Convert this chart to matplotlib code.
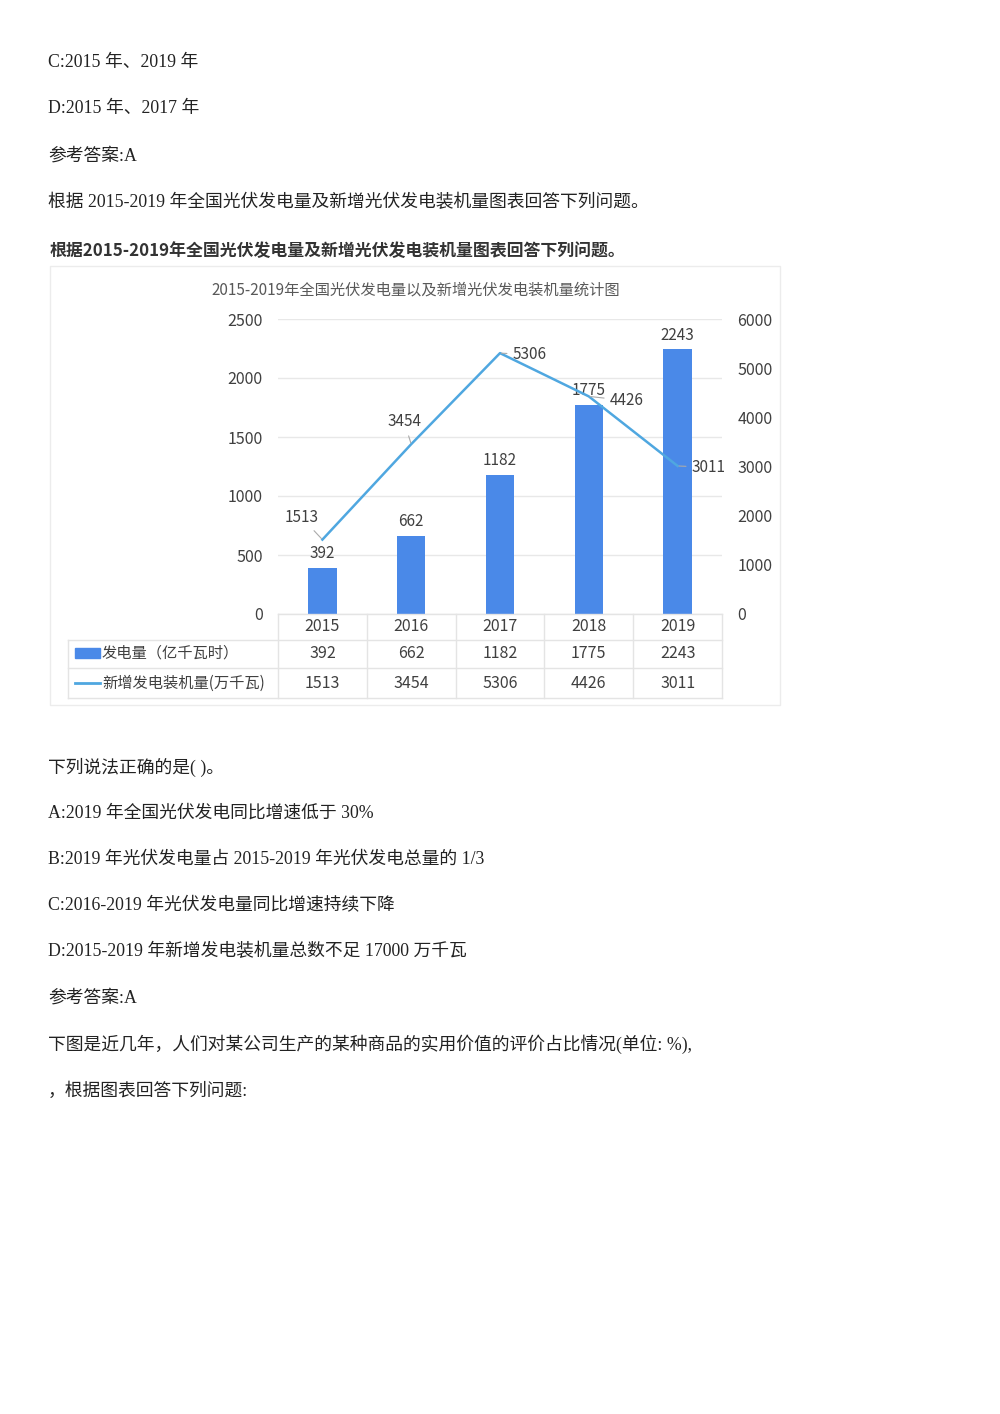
import matplotlib
matplotlib.use("Agg")
import matplotlib.pyplot as plt
from matplotlib.patches import Rectangle
from matplotlib.lines import Line2D
from matplotlib.transforms import blended_transform_factory

# ---------------- data ----------------
years = ["2015", "2016", "2017", "2018", "2019"]
generation = [392, 662, 1182, 1775, 2243]          # 发电量（亿千瓦时）
new_capacity = [1513, 3454, 5306, 4426, 3011]      # 新增发电装机量(万千瓦)
left_ticks = [0, 500, 1000, 1500, 2000, 2500]
right_ticks = [0, 1000, 2000, 3000, 4000, 5000, 6000]
series_names = ["发电量（亿千瓦时）", "新增发电装机量(万千瓦)"]
chart_title = "2015-2019年全国光伏发电量以及新增光伏发电装机量统计图"
image_heading = "根据2015-2019年全国光伏发电量及新增光伏发电装机量图表回答下列问题。"

top_lines = [
    "C:2015 年、2019 年",
    "D:2015 年、2017 年",
    "参考答案:A",
    "根据 2015-2019 年全国光伏发电量及新增光伏发电装机量图表回答下列问题。",
]
bottom_lines = [
    "下列说法正确的是( )。",
    "A:2019 年全国光伏发电同比增速低于 30%",
    "B:2019 年光伏发电量占 2015-2019 年光伏发电总量的 1/3",
    "C:2016-2019 年光伏发电量同比增速持续下降",
    "D:2015-2019 年新增发电装机量总数不足 17000 万千瓦",
    "参考答案:A",
    "下图是近几年，人们对某公司生产的某种商品的实用价值的评价占比情况(单位: %),",
    "，根据图表回答下列问题:",
]

W, H = 1000, 1414
BAR_C = "#4a89e8"
LINE_C = "#4fa7e0"
TXT_C = "#404040"
GRID_C = "#e8e8e8"
CJK = ["Noto Sans CJK SC", "DejaVu Sans"]
PAGE = ["Liberation Serif", "Noto Sans CJK SC", "DejaVu Sans"]

def fx(x):
    return x / W

def fy(y):
    return 1 - y / H

fig = plt.figure(figsize=(10, 14.14), dpi=100)
fig.patch.set_facecolor("white")

# ---------------- page text ----------------
top_y = [63, 109, 156, 202]
for s, y in zip(top_lines, top_y):
    fig.text(fx(48), fy(y), s, family=PAGE, fontsize=12.8, color="#222222",
             ha="left", va="center")
bot_y = [767, 813, 859, 905, 951, 998, 1044, 1091]
for s, y in zip(bottom_lines, bot_y):
    fig.text(fx(48), fy(y), s, family=PAGE, fontsize=12.8, color="#222222",
             ha="left", va="center")

# ---------------- embedded image heading + frame ----------------
fig.text(fx(50), fy(251), image_heading, family=CJK, fontsize=12.2, fontweight="bold",
         color="#333333", ha="left", va="center")
fig.add_artist(Rectangle((fx(50), fy(705)), fx(780) - fx(50), fy(266) - fy(705),
                         transform=fig.transFigure, fill=False, edgecolor="#ececec", lw=1))
fig.text(fx(416), fy(290), chart_title, family=CJK, fontsize=11, color="#595959",
         ha="center", va="center")

# ---------------- chart ----------------
ax = fig.add_axes([fx(278), fy(614), fx(722) - fx(278), fy(319) - fy(614)])
x = list(range(len(years)))
ax.set_xlim(-0.5, len(years) - 0.5)
ax.set_ylim(left_ticks[0], left_ticks[-1])
ax.set_yticks(left_ticks)
ax.set_yticklabels([str(t) for t in left_ticks], family=CJK, fontsize=11.5, color=TXT_C)
ax.tick_params(axis="y", length=0, pad=11)
ax.set_xticks([])
for sp in ax.spines.values():
    sp.set_visible(False)
ax.yaxis.grid(True, color=GRID_C, lw=1)
ax.set_axisbelow(True)

ax.bar(x, generation, width=0.32, color=BAR_C, zorder=2)
for i, v in enumerate(generation):
    ax.annotate(str(v), (i, v), xytext=(0, 4), textcoords="offset points",
                ha="center", va="bottom", family=CJK, fontsize=11, color=TXT_C)

ax2 = ax.twinx()
ax2.set_ylim(right_ticks[0], right_ticks[-1])
ax2.set_yticks(right_ticks)
ax2.set_yticklabels([str(t) for t in right_ticks], family=CJK, fontsize=11.5, color=TXT_C)
ax2.tick_params(axis="y", length=0, pad=11)
for sp in ax2.spines.values():
    sp.set_visible(False)
ax2.plot(x, new_capacity, color=LINE_C, lw=1.8, zorder=3)

line_label_offsets = [(-15, 16), (-5, 16), (9, -1), (15, -3), (10, -1)]
line_label_ha = ["center", "center", "left", "left", "left"]
for i, v in enumerate(new_capacity):
    ax2.annotate(str(v), (i, v), xytext=line_label_offsets[i], textcoords="offset points",
                 ha=line_label_ha[i], va="center", family=CJK, fontsize=11, color=TXT_C,
                 arrowprops=dict(arrowstyle="-", color="#aaaaaa", lw=0.8,
                                 shrinkA=2, shrinkB=1))

# ---------------- data table ----------------
tr = blended_transform_factory(ax.transData, fig.transFigure)
row_y = [626, 653, 683]
for i, yr in enumerate(years):
    fig.text(i, fy(row_y[0]), yr, transform=tr, ha="center", va="center",
             family=CJK, fontsize=11.5, color=TXT_C)
    fig.text(i, fy(row_y[1]), str(generation[i]), transform=tr, ha="center", va="center",
             family=CJK, fontsize=11.5, color=TXT_C)
    fig.text(i, fy(row_y[2]), str(new_capacity[i]), transform=tr, ha="center", va="center",
             family=CJK, fontsize=11.5, color=TXT_C)

TBL_C = "#e4e4e4"
for b in [k - 0.5 for k in range(len(years) + 1)]:
    fig.add_artist(Line2D([b, b], [fy(614), fy(698)], transform=tr, color=TBL_C, lw=1))
fig.add_artist(Line2D([-0.5, len(years) - 0.5], [fy(614), fy(614)], transform=tr,
                      color=TBL_C, lw=1))
for yy in [640, 668, 698]:
    fig.add_artist(Line2D([fx(68), fx(722)], [fy(yy), fy(yy)], transform=fig.transFigure,
                          color=TBL_C, lw=1))
fig.add_artist(Line2D([fx(68), fx(68)], [fy(640), fy(698)], transform=fig.transFigure,
                      color=TBL_C, lw=1))

# legend keys + row labels
fig.add_artist(Rectangle((fx(75), fy(658)), fx(25), fy(648) - fy(658),
                         transform=fig.transFigure, color=BAR_C))
fig.add_artist(Line2D([fx(75), fx(100)], [fy(683), fy(683)], transform=fig.transFigure,
                      color=LINE_C, lw=2))
fig.text(fx(102), fy(row_y[1]), series_names[0], family=CJK, fontsize=11, color=TXT_C,
         ha="left", va="center")
fig.text(fx(102), fy(row_y[2]), series_names[1], family=CJK, fontsize=11, color=TXT_C,
         ha="left", va="center")

fig.savefig("out.png", dpi=100, facecolor="white")
